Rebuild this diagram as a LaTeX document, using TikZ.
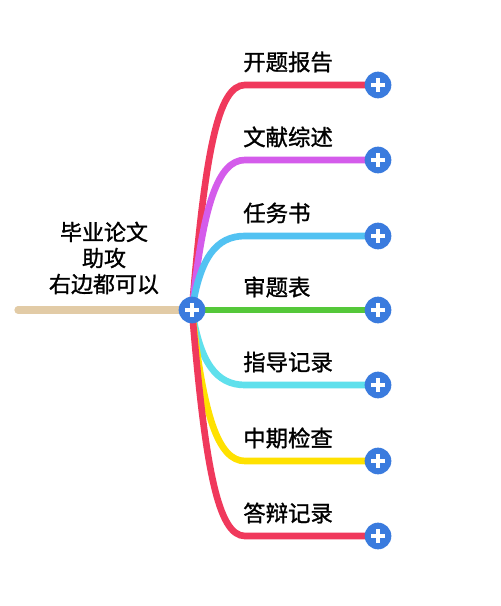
\documentclass[tikz,border=0pt]{standalone}
\usepackage{fontspec}
\setmainfont{Noto Sans CJK SC}[FakeBold=1.2]
\begin{document}
\begin{tikzpicture}[x=0.75pt,y=-0.75pt,
  branch/.style={line width=5pt,line cap=round},
  plusbtn/.style={circle,fill=btnblue,minimum size=20pt,inner sep=0pt,
    path picture={\draw[white,line width=2.7pt]
      ([xshift=-5.4pt]path picture bounding box.center)--([xshift=5.4pt]path picture bounding box.center)
      ([yshift=-5.4pt]path picture bounding box.center)--([yshift=5.4pt]path picture bounding box.center);}},
  lbl/.style={anchor=west,inner sep=0pt,font=\fontsize{16.8pt}{19pt}\selectfont}]
\definecolor{btnblue}{HTML}{3A7BDE}
\definecolor{tancol}{HTML}{E2CBA6}
\definecolor{colred}{HTML}{F0395C}
\definecolor{colmag}{HTML}{D45CEB}
\definecolor{colblue}{HTML}{52C2F2}
\definecolor{colgreen}{HTML}{55C83A}
\definecolor{colcyan}{HTML}{5FE0EC}
\definecolor{colyel}{HTML}{FFE100}
\useasboundingbox (0,0) rectangle (500,606);
\fill[white] (0,0) rectangle (500,606);
\coordinate (cp) at (192,310);
\coordinate (st) at (18,310);
\draw[branch,tancol,line width=5.4pt] (st) -- (cp);
% branch ends
\foreach \i/\y in {1/85,2/160,3/236,4/310,5/385,6/461,7/536}{
  \coordinate (k\i) at (245,\y);
  \coordinate (e\i) at (378,\y);
}
% curves
\draw[branch,colred] (cp) .. controls (205,152) and (218,85) .. (k1) -- (e1);
\draw[branch,colmag] (cp) .. controls (203,205) and (218,160) .. (k2) -- (e2);
\draw[branch,colblue] (cp) .. controls (200,258) and (216,236) .. (k3) -- (e3);
\draw[branch,colgreen] (cp) -- (e4);
\draw[branch,colcyan] (cp) .. controls (200,362) and (216,385) .. (k5) -- (e5);
\draw[branch,colyel] (cp) .. controls (203,415) and (218,461) .. (k6) -- (e6);
\draw[branch,colred] (cp) .. controls (205,468) and (218,536) .. (k7) -- (e7);
% buttons
\node[plusbtn] (c) at (cp) {};
\foreach \i in {1,...,7}{\node[plusbtn] (p\i) at (e\i) {};}
% labels
\node[lbl] (t1) at (243,62) {开题报告};
\node[lbl] (t2) at (243,137) {文献综述};
\node[lbl] (t3) at (243,213) {任务书};
\node[lbl] (t4) at (243,287) {审题表};
\node[lbl] (t5) at (243,362) {指导记录};
\node[lbl] (t6) at (243,438) {中期检查};
\node[lbl] (t7) at (243,513) {答辩记录};
\node[align=center,inner sep=0pt,font=\fontsize{16.5pt}{19.5pt}\selectfont] (m) at (104,258) {毕业论文\\助攻\\右边都可以};
\end{tikzpicture}
\end{document}
